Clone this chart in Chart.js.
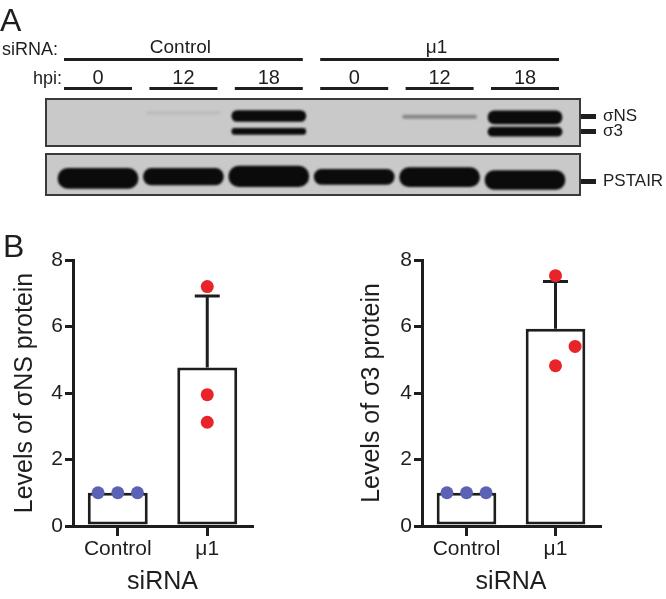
<!DOCTYPE html>
<html>
<head>
<meta charset="utf-8">
<script src="https://cdn.jsdelivr.net/npm/chart.js@4.4.1/dist/chart.umd.min.js"></script>
<style>
  html, body { margin: 0; padding: 0; background: #fff; }
  body { width: 666px; height: 599px; position: relative; overflow: hidden; font-family: 'Liberation Sans', Arial, sans-serif; color: #1e1e1e; }
  .box { position: absolute; }
  .panel { position: absolute; font-size: 32px; line-height: 1; }
</style>
</head>
<body>
<div class="box" style="left:0;top:0;width:666px;height:150px"><canvas id="blotTop"></canvas></div>
<div class="box" style="left:0;top:150px;width:666px;height:49px"><canvas id="blotBottom"></canvas></div>
<div class="box" style="left:0;top:225px;width:333px;height:374px"><canvas id="chartNS"></canvas></div>
<div class="box" style="left:333px;top:225px;width:333px;height:374px"><canvas id="chartS3"></canvas></div>
<div class="panel" style="left:3px;top:230px">B</div>
<script>
// =========================
// DATA
// =========================
// panel A: lanes of the blot
const lanes = [0, 1, 2, 3, 4, 5];
const groups = ['Control', 'μ1'];
const laneGroup = [0, 0, 0, 1, 1, 1];
const hpi = ['0', '12', '18', '0', '12', '18'];

// band positions in the strip (units from the top edge), null = no band
const bandRows = ['σNS', 'σ3'];
const bandRowPos = [17.7, 32.7];
const nsBands = [null, [12.5, 15.5], [11.5, 22.5], null, [16, 19.5], [11.8, 24.8]];
const nsShade = [0, 0.07, 1, 0, 0.35, 1];
const s3Bands = [null, null, [29.3, 35.3], null, null, [28.2, 37.2]];
const s3Shade = [0, 0, 1, 0, 0, 1];

const loadRows = ['PSTAIR'];
const loadRowPos = [27];
const pstairBands = [[14.3, 34.3], [14.3, 31], [12, 32.7], [15.3, 30.3], [13.7, 32.7], [16.7, 35.3]];
const pstairShade = [1, 1, 1, 1, 1, 1];

// panel B
const siRNA = ['Control', 'μ1'];
const yTicks = [0, 2, 4, 6, 8];
const ctrlJitter = [-0.22, 0, 0.22];

const nsMean = [1.0, 4.77];
const nsSD = [0, 2.15];
const nsControlPts = [1.0, 1.0, 1.0];
const nsMu1Pts = [7.2, 3.95, 3.12];
const nsMu1Jitter = [0, 0, 0];

const s3Mean = [1.0, 5.93];
const s3SD = [0, 1.42];
const s3ControlPts = [1.0, 1.0, 1.0];
const s3Mu1Pts = [7.53, 4.82, 5.4];
const s3Mu1Jitter = [0, 0, 0.22];

// =========================
// STYLE
// =========================
const FONT = "'Liberation Sans', Arial, sans-serif";
const INK = '#1e1e1e';
const GEL = '#c9c9c9';
const BLUE = '#5b62b6';
const RED = '#e8232a';

const shadeColor = (s) => {
    const v = Math.round(201 - s * 190);
    return `rgb(${v},${v},${v})`;
};

// =========================
// BLOT
// =========================
const gelPlugin = {
    id: 'gel',
    beforeDatasetsDraw(chart) {
        const { ctx, chartArea: a } = chart;
        ctx.save();
        ctx.fillStyle = GEL;
        ctx.fillRect(a.left, a.top, a.right - a.left, a.bottom - a.top);
        ctx.restore();
        ctx.save();
        ctx.filter = 'blur(1.3px)'; // soft band edges
    },
    afterDatasetsDraw(chart) {
        const { ctx, chartArea: a } = chart;
        ctx.restore();
        ctx.save();
        ctx.strokeStyle = '#3a3a3a';
        ctx.lineWidth = 2;
        ctx.strokeRect(a.left, a.top, a.right - a.left, a.bottom - a.top);
        ctx.restore();
    },
};

const headerPlugin = {
    id: 'header',
    afterDraw(chart) {
        const ctx = chart.ctx;
        const x = chart.scales.x;
        const half = 34;
        ctx.save();
        ctx.fillStyle = INK;
        ctx.strokeStyle = INK;
        ctx.textBaseline = 'alphabetic';

        ctx.font = '32px ' + FONT;
        ctx.textAlign = 'left';
        ctx.fillText('A', 0, 31);

        ctx.font = '18px ' + FONT;
        ctx.textAlign = 'right';
        ctx.fillText('siRNA:', 58, 55);
        ctx.fillText('hpi:', 62, 84);

        ctx.lineWidth = 3;
        groups.forEach((g, gi) => {
            const idx = lanes.filter((l) => laneGroup[l] === gi);
            const x0 = x.getPixelForValue(idx[0]) - half;
            const x1 = x.getPixelForValue(idx[idx.length - 1]) + half;
            ctx.beginPath();
            ctx.moveTo(x0, 59.5);
            ctx.lineTo(x1, 59.5);
            ctx.stroke();
            ctx.font = '19px ' + FONT;
            ctx.textAlign = 'center';
            ctx.fillText(g, (x0 + x1) / 2 - 3, 53);
        });

        ctx.font = '20px ' + FONT;
        lanes.forEach((l) => {
            const cx = x.getPixelForValue(l);
            ctx.beginPath();
            ctx.moveTo(cx - half, 88.5);
            ctx.lineTo(cx + half, 88.5);
            ctx.stroke();
            ctx.fillText(hpi[l], cx, 84);
        });
        ctx.restore();
    },
};

function bandDataset(label, bands, shade, thickness) {
    const present = lanes.filter((l) => bands[l]);
    return {
        label,
        data: present.map((l) => ({ x: l, y: bands[l] })),
        backgroundColor: present.map((l) => shadeColor(shade[l])),
        barThickness: thickness,
        borderRadius: 30,
        borderSkipped: false,
        borderWidth: 0,
    };
}

function blotChart(id, datasets, rowNames, rowPos, maxPos, padTop, padBottom, withHeader) {
    return new Chart(document.getElementById(id), {
        type: 'bar',
        data: { datasets },
        options: {
            responsive: true,
            maintainAspectRatio: false,
            animation: false,
            layout: { padding: { left: 46, right: 0, top: padTop, bottom: padBottom } },
            plugins: { legend: { display: false }, tooltip: { enabled: false } },
            datasets: { bar: { grouped: false } },
            scales: {
                x: { type: 'linear', min: -0.609, max: 5.644, offset: false, display: false },
                y: {
                    position: 'right',
                    reverse: true,
                    min: 0,
                    max: maxPos,
                    border: { display: false },
                    grid: { drawOnChartArea: false, tickLength: 16, lineWidth: 5, color: INK },
                    afterBuildTicks: (s) => {
                        s.ticks = rowPos.map((v) => ({ value: v }));
                    },
                    afterFit: (s) => {
                        s.width = 86;
                        s.paddingTop = 0;
                        s.paddingBottom = 0;
                    },
                    ticks: {
                        autoSkip: false,
                        padding: 7,
                        color: INK,
                        font: { size: 17, family: FONT },
                        callback: (v, i) => rowNames[i],
                    },
                },
            },
        },
        plugins: withHeader ? [gelPlugin, headerPlugin] : [gelPlugin],
    });
}

blotChart(
    'blotTop',
    [bandDataset('σNS', nsBands, nsShade, 74), bandDataset('σ3', s3Bands, s3Shade, 74)],
    bandRows, bandRowPos, 47, 99, 4, true
);
blotChart(
    'blotBottom',
    [bandDataset('PSTAIR', pstairBands, pstairShade, 80)],
    loadRows, loadRowPos, 41, 4, 4, false
);

// =========================
// BAR CHARTS
// =========================
const errorBarPlugin = {
    id: 'errorBars',
    afterDatasetDraw(chart, args) {
        if (args.meta.type !== 'bar') return;
        const ds = chart.data.datasets[args.index];
        const y = chart.scales.y;
        const ctx = chart.ctx;
        ctx.save();
        ctx.strokeStyle = INK;
        ctx.lineWidth = 3;
        args.meta.data.forEach((bar, i) => {
            if (!ds.sd[i]) return;
            const y0 = y.getPixelForValue(ds.data[i]);
            const y1 = y.getPixelForValue(ds.data[i] + ds.sd[i]);
            ctx.beginPath();
            ctx.moveTo(bar.x, y0);
            ctx.lineTo(bar.x, y1);
            ctx.moveTo(bar.x - 12.5, y1);
            ctx.lineTo(bar.x + 12.5, y1);
            ctx.stroke();
        });
        ctx.restore();
    },
};

function barChart(id, yTitle, means, sds, ctrlPts, muPts, muJitter, axisWidth, titlePad, padRight) {
    const pts = ctrlPts
        .map((v, i) => ({ x: ctrlJitter[i], y: v }))
        .concat(muPts.map((v, i) => ({ x: 1 + muJitter[i], y: v })));
    const colors = ctrlPts.map(() => BLUE).concat(muPts.map(() => RED));

    return new Chart(document.getElementById(id), {
        type: 'bar',
        data: {
            labels: siRNA,
            datasets: [
                {
                    type: 'bar',
                    data: means,
                    sd: sds,
                    backgroundColor: '#fff',
                    borderColor: INK,
                    borderWidth: 3,
                    borderSkipped: false,
                    grouped: false,
                    barPercentage: 0.67,
                    categoryPercentage: 1,
                    order: 2,
                },
                {
                    type: 'scatter',
                    data: pts,
                    xAxisID: 'xj',
                    pointBackgroundColor: colors,
                    backgroundColor: colors,
                    pointBorderWidth: 0,
                    pointRadius: 6.5,
                    order: 1,
                },
            ],
        },
        options: {
            responsive: true,
            maintainAspectRatio: false,
            animation: false,
            layout: { padding: { left: 0, top: 35, right: padRight, bottom: 0 } },
            plugins: { legend: { display: false }, tooltip: { enabled: false } },
            scales: {
                x: {
                    grid: { offset: false, drawOnChartArea: false, tickLength: 10, lineWidth: 3, color: INK },
                    border: { width: 3, color: INK },
                    ticks: { padding: 1, color: INK, font: { size: 21, family: FONT } },
                    title: {
                        display: true,
                        text: 'siRNA',
                        color: INK,
                        font: { size: 25, family: FONT },
                        padding: { top: 0, bottom: 2 },
                    },
                    afterFit: (s) => {
                        s.height = 73;
                    },
                },
                xj: { type: 'linear', min: -0.5, max: 1.5, offset: false, display: false },
                y: {
                    min: 0,
                    max: 8,
                    afterBuildTicks: (s) => {
                        s.ticks = yTicks.map((v) => ({ value: v }));
                    },
                    grid: { drawOnChartArea: false, tickLength: 8, lineWidth: 3, color: INK },
                    border: { width: 3, color: INK },
                    ticks: { padding: 2, color: INK, font: { size: 21, family: FONT } },
                    title: {
                        display: true,
                        text: yTitle,
                        color: INK,
                        font: { size: 25, family: FONT },
                        padding: { top: titlePad, bottom: 0 },
                    },
                    afterFit: (s) => {
                        s.width = axisWidth;
                    },
                },
            },
        },
        plugins: [errorBarPlugin],
    });
}

barChart('chartNS', 'Levels of σNS protein', nsMean, nsSD, nsControlPts, nsMu1Pts, nsMu1Jitter, 73, 10, 81);
barChart('chartS3', 'Levels of σ3 protein', s3Mean, s3SD, s3ControlPts, s3Mu1Pts, s3Mu1Jitter, 89, 24, 66);
</script>
</body>
</html>
